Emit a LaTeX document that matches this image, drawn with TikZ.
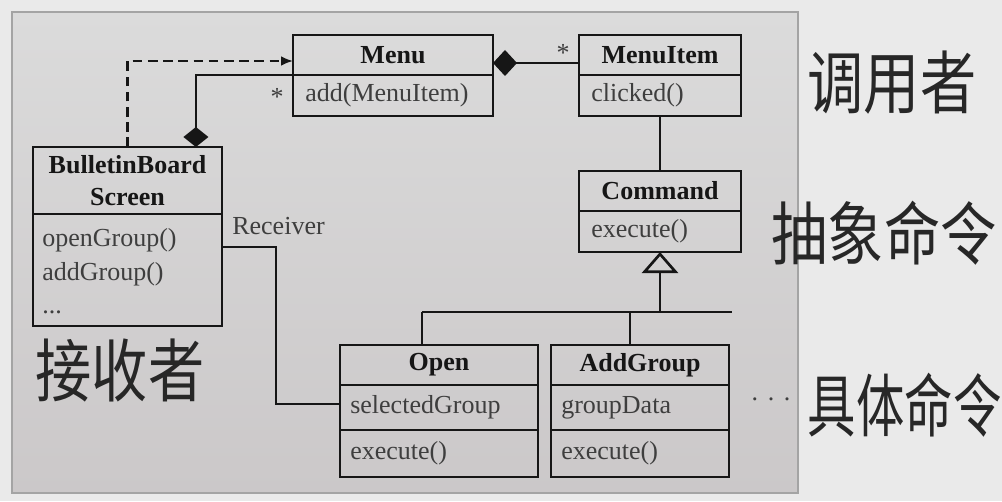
\documentclass[tikz,border=0pt]{standalone}
\usepackage{fontspec}
\setmainfont{Liberation Serif}
\newfontfamily\cjk{Noto Sans CJK SC}
\usepackage{tikz}
\usetikzlibrary{positioning,arrows.meta}
\definecolor{paper}{HTML}{EAEAEA}
\definecolor{sheettop}{HTML}{DBDBDB}
\definecolor{sheetbot}{HTML}{CBC8C9}
\definecolor{rim}{HTML}{A4A4A4}
\definecolor{ink}{HTML}{161616}
\definecolor{faint}{HTML}{3E3E3E}
\definecolor{pencil}{HTML}{272727}
\newcommand{\tallhand}[1]{\scalebox{1}[1.22]{#1}}

\begin{document}
\begin{tikzpicture}[x=0.25mm, y=-0.25mm,
  box/.style={draw=ink, line width=1.9pt, outer sep=0pt, inner sep=0pt},
  cname/.style={box, font=\fontsize{18.5}{23}\selectfont\bfseries, text=ink,
    align=center},
  member/.style={inner sep=0pt, font=\fontsize{18.5}{23}\selectfont, text=faint},
  link/.style={draw=ink, line width=1.9pt},
  hand/.style={font=\cjk\fontsize{40}{40}\selectfont, text=pencil}]
  \useasboundingbox (0,0) rectangle (1002,501);
  \clip (0,0) rectangle (1002,501);
  \fill[paper] (0,0) rectangle (1002,501);
  \shadedraw[top color=sheettop, bottom color=sheetbot, draw=rim, line width=2pt]
    (12,12) rectangle (798,493);
  % invoker: menu and its items
  \node[cname, minimum width=50mm, minimum height=10mm, anchor=north west]
    (menu) at (293,35) {Menu};
  \node[box, minimum width=50mm, minimum height=10.25mm, below=0pt of menu]
    (menuops) {};
  \node[member, right=3mm of menuops.west] (menuadd) {add(MenuItem)};
  \node[cname, minimum width=40.5mm, minimum height=10mm, anchor=north west]
    (menuitem) at (579,35) {MenuItem};
  \node[box, minimum width=40.5mm, minimum height=10.25mm, below=0pt of menuitem]
    (menuitemops) {};
  \node[member, right=3mm of menuitemops.west] (clicked) {clicked()};
  % abstract command
  \node[cname, minimum width=40.5mm, minimum height=10mm, anchor=north west]
    (command) at (579,171) {Command};
  \node[box, minimum width=40.5mm, minimum height=10.25mm, below=0pt of command]
    (commandops) {};
  \node[member, right=3mm of commandops.west] (cmdexec) {execute()};
  % receiver
  \node[cname, minimum width=47.25mm, minimum height=16.75mm, anchor=north west]
    (bbs) at (33,147) {BulletinBoard\\Screen};
  \node[box, minimum width=47.25mm, minimum height=28mm, below=0pt of bbs]
    (bbsops) {};
  \node[member, anchor=west] (opengroup)
    at ([xshift=2.25mm,yshift=-6.5mm]bbsops.north west) {openGroup()};
  \node[member, anchor=west] (addgroupop)
    at ([xshift=2.25mm,yshift=-15mm]bbsops.north west) {addGroup()};
  \node[member, anchor=west] (bbsmore)
    at ([xshift=2.25mm,yshift=-24.5mm]bbsops.north west) {...};
  % concrete commands
  \node[cname, minimum width=49.5mm, minimum height=10mm, anchor=north west]
    (open) at (340,345) {Open};
  \node[box, minimum width=49.5mm, minimum height=11.25mm, below=0pt of open]
    (openattr) {};
  \node[box, minimum width=49.5mm, minimum height=11.75mm, below=0pt of openattr]
    (openops) {};
  \node[member, right=2.5mm of openattr.west] (selgroup) {selectedGroup};
  \node[member, right=2.5mm of openops.west] (openexec) {execute()};
  \node[cname, minimum width=44.5mm, minimum height=10mm, anchor=north west]
    (addgroup) at (551,345) {AddGroup};
  \node[box, minimum width=44.5mm, minimum height=11.25mm, below=0pt of addgroup]
    (addgroupattr) {};
  \node[box, minimum width=44.5mm, minimum height=11.75mm, below=0pt of addgroupattr]
    (addgroupops) {};
  \node[member, right=2.5mm of addgroupattr.west] (groupdata) {groupData};
  \node[member, right=2.5mm of addgroupops.west] (addexec) {execute()};
  % associations
  \draw[link, {Diamond[length=6mm,width=6.5mm]}-]
    ([yshift=-2mm]menu.east) -- ([yshift=-2mm]menu.east -| menuitem.west);
  \node[member] (staritem) at (563,53) {*};
  \draw[link, {Diamond[length=5mm,width=6.25mm]}-]
    ([xshift=17.1mm]bbs.north) |- (menu.south west);
  \node[member] (starmenu) at (277,97) {*};
  \draw[draw=ink, line width=2pt, dash pattern=on 2.4mm off 1.4mm,
    -{Latex[length=3mm,width=2.5mm]}] (bbs.north) |- ([yshift=-1.5mm]menu.west);
  \draw[link] (menuitemops.south) -- (command.north);
  \draw[link] ([yshift=5.75mm]bbsops.east)
    -| ([xshift=-16mm,yshift=0.9mm]openattr.west) -- ([yshift=0.9mm]openattr.west);
  \node[member, anchor=west] (recvlbl) at (232,226) {Receiver};
  % inheritance
  \coordinate (busl) at (422,312);
  \coordinate (busr) at (732,312);
  \coordinate (busa) at (630,312);
  \draw[link] (busl) -- (busr);
  \draw[link] (busl) -- (busl |- open.north);
  \draw[link] (busa) -- (busa |- addgroup.north);
  \draw[link, -{Triangle[open, length=5.25mm, width=9mm]}]
    (commandops.south |- busl) -- (commandops.south);
  \node[member] (moreops) at (771,399) {.\hspace{2.4mm}.\hspace{2.4mm}.};
  % notes in the margin
  \node[hand] (invoker) at (892,83) {\tallhand{调用者}};
  \node[hand] (abstract) at (884,233) {\tallhand{抽象命令}};
  \node[hand, anchor=west] (concrete) at (803,405)
    {\scalebox{0.86}[1.22]{具体命令}};
  \node[hand] (receiver) at (120,370) {\tallhand{接收者}};
\end{tikzpicture}
\end{document}
